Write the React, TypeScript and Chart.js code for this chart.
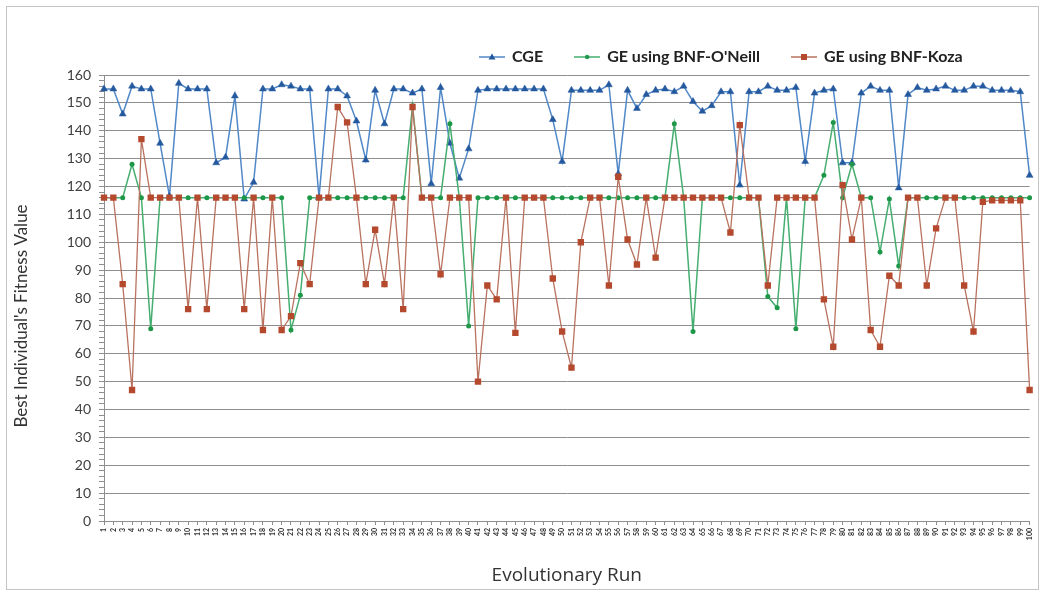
import React, { useEffect, useRef } from 'react';
import { Chart, registerables } from 'chart.js';

Chart.register(...registerables);

const runs = [
  '1','2','3','4','5','6','7','8','9','10','11','12','13','14','15','16','17','18','19','20',
  '21','22','23','24','25','26','27','28','29','30','31','32','33','34','35','36','37','38','39','40',
  '41','42','43','44','45','46','47','48','49','50','51','52','53','54','55','56','57','58','59','60',
  '61','62','63','64','65','66','67','68','69','70','71','72','73','74','75','76','77','78','79','80',
  '81','82','83','84','85','86','87','88','89','90','91','92','93','94','95','96','97','98','99','100',
];

const cge = [
  155, 155, 146, 156, 155, 155, 135.5, 116.5, 157, 155,
  155, 155, 128.5, 130.5, 152.5, 115.5, 121.5, 155, 155, 156.5,
  156, 155, 155, 116, 155, 155, 152.5, 143.5, 129.5, 154.5,
  142.5, 155, 155, 153.5, 155, 121, 155.5, 135.5, 123, 133.5,
  154.5, 155, 155, 155, 155, 155, 155, 155, 144, 129,
  154.5, 154.5, 154.5, 154.5, 156.5, 124.5, 154.5, 148, 153, 154.5,
  155, 154, 156, 150.5, 147, 149, 154, 154, 120.5, 154,
  154, 156, 154.5, 154.5, 155.5, 129, 153.5, 154.5, 155, 128.5,
  128.5, 153.5, 156, 154.5, 154.5, 119.5, 153, 155.5, 154.5, 155,
  156, 154.5, 154.5, 156, 156, 154.5, 154.5, 154.5, 154, 124,
];

const oneill = [
  116, 116, 116, 128, 116, 69, 116, 116, 116, 116,
  116, 116, 116, 116, 116, 116, 116, 116, 116, 116,
  68.5, 81, 116, 116, 116, 116, 116, 116, 116, 116,
  116, 116, 116, 149, 116, 116, 116, 142.5, 116, 70,
  116, 116, 116, 116, 116, 116, 116, 116, 116, 116,
  116, 116, 116, 116, 116, 116, 116, 116, 116, 116,
  116, 142.5, 116, 68, 116, 116, 116, 116, 116, 116,
  116, 80.5, 76.5, 116, 69, 116, 116, 124, 143, 116,
  128, 116, 116, 96.5, 115.5, 91.5, 116, 116, 116, 116,
  116, 116, 116, 116, 116, 116, 116, 116, 116, 116,
];

const koza = [
  116, 116, 85, 47, 137, 116, 116, 116, 116, 76,
  116, 76, 116, 116, 116, 76, 116, 68.5, 116, 68.5,
  73.5, 92.5, 85, 116, 116, 148.5, 143, 116, 85, 104.5,
  85, 116, 76, 148.5, 116, 116, 88.5, 116, 116, 116,
  50, 84.5, 79.5, 116, 67.5, 116, 116, 116, 87, 68,
  55, 100, 116, 116, 84.5, 123.5, 101, 92, 116, 94.5,
  116, 116, 116, 116, 116, 116, 116, 103.5, 142, 116,
  116, 84.5, 116, 116, 116, 116, 116, 79.5, 62.5, 120.5,
  101, 116, 68.5, 62.5, 88, 84.5, 116, 116, 84.5, 105,
  116, 116, 84.5, 68, 114.5, 115, 115, 115, 115, 47,
];

const yLabels = [0, 10, 20, 30, 40, 50, 60, 70, 80, 90, 100, 110, 120, 130, 140, 150, 160];

const seriesNames = ['CGE', "GE using BNF-O'Neill", 'GE using BNF-Koza'];
const xTitle = 'Evolutionary Run';
const yTitle = "Best Individual's Fitness Value";

const FONT = 'Lato, "Open Sans", sans-serif';
const GRID = '#8e8e8e';
const BLUE_LINE = '#5088C8';
const BLUE_PT = '#24599E';
const GREEN_LINE = '#45AE70';
const GREEN_PT = '#1E9848';
const RED_LINE = '#B9725F';
const RED_PT = '#B4492D';

function makeIcon(line: string, fill: string, style: string) {
  const c = document.createElement('canvas');
  c.width = 26;
  c.height = 10;
  const ctx = c.getContext('2d')!;
  ctx.strokeStyle = line;
  ctx.lineWidth = 1.5;
  ctx.beginPath();
  ctx.moveTo(0, 5);
  ctx.lineTo(26, 5);
  ctx.stroke();
  ctx.fillStyle = fill;
  ctx.beginPath();
  if (style === 'triangle') {
    ctx.moveTo(13, 1.5);
    ctx.lineTo(16.5, 7.5);
    ctx.lineTo(9.5, 7.5);
    ctx.closePath();
  } else if (style === 'circle') {
    ctx.arc(13, 5, 2.2, 0, Math.PI * 2);
  } else {
    ctx.rect(10, 2, 6, 6);
  }
  ctx.fill();
  return c;
}

export default function App() {
  const ref = useRef<HTMLCanvasElement | null>(null);

  useEffect(() => {
    if (!ref.current) return;
    const icons = [
      makeIcon(BLUE_LINE, BLUE_PT, 'triangle'),
      makeIcon(GREEN_LINE, GREEN_PT, 'circle'),
      makeIcon(RED_LINE, RED_PT, 'rect'),
    ];
    const minorTicks: number[] = [];
    for (let v = 0; v <= 160; v += 2) minorTicks.push(v);

    const legendShift = {
      id: 'legendShift',
      afterLayout(chart: any) {
        const lg = chart.legend;
        if (lg) {
          const pad = lg.options.labels.padding;
          lg.left = 480 - pad;
        }
      },
    };

    const yTitlePlugin = {
      id: 'yTitlePlugin',
      afterDraw(chart: any) {
        const ctx = chart.ctx;
        ctx.save();
        ctx.translate(22, 316);
        ctx.rotate(-Math.PI / 2);
        ctx.font = '17px ' + FONT;
        ctx.fillStyle = '#333';
        ctx.textAlign = 'center';
        ctx.textBaseline = 'middle';
        ctx.fillText(yTitle, 0, 0);
        ctx.restore();
      },
    };

    const chart = new Chart(ref.current, {
      type: 'line',
      data: {
        labels: runs,
        datasets: [
          {
            label: seriesNames[0],
            data: cge,
            borderColor: BLUE_LINE,
            backgroundColor: BLUE_PT,
            pointBackgroundColor: BLUE_PT,
            pointBorderColor: BLUE_PT,
            pointStyle: 'triangle',
            pointRadius: 4,
            pointBorderWidth: 0.5,
            borderWidth: 1.5,
            tension: 0,
            order: 2,
          },
          {
            label: seriesNames[1],
            data: oneill,
            borderColor: GREEN_LINE,
            backgroundColor: GREEN_PT,
            pointBackgroundColor: GREEN_PT,
            pointBorderColor: GREEN_PT,
            pointStyle: 'circle',
            pointRadius: 2.5,
            pointBorderWidth: 0,
            borderWidth: 1.5,
            tension: 0,
            order: 1,
          },
          {
            label: seriesNames[2],
            data: koza,
            borderColor: RED_LINE,
            backgroundColor: RED_PT,
            pointBackgroundColor: RED_PT,
            pointBorderColor: RED_PT,
            pointStyle: 'rect',
            pointRadius: 4.5,
            pointBorderWidth: 0,
            borderWidth: 1.3,
            tension: 0,
            order: 0,
          },
        ],
      },
      options: {
        responsive: false,
        animation: false,
        devicePixelRatio: 1,
        layout: { padding: { left: 10, right: 11, top: 17, bottom: 6 } },
        plugins: {
          tooltip: { enabled: false },
          legend: {
            display: true,
            position: 'top',
            align: 'start',
            labels: {
              usePointStyle: true,
              pointStyleWidth: 24,
              padding: 32,
              color: '#222',
              font: { family: FONT, size: 16, weight: 'bold' },
              sort: (a: any, b: any) => a.datasetIndex - b.datasetIndex,
              generateLabels: (chart: any) => {
                const items = Chart.defaults.plugins.legend.labels.generateLabels(chart);
                return items.map((it: any) => ({ ...it, pointStyle: icons[it.datasetIndex] }));
              },
            },
          },
        },
        scales: {
          x: {
            type: 'category',
            offset: false,
            grid: { drawOnChartArea: false, drawTicks: true, tickLength: 4, color: GRID },
            border: { color: GRID, width: 1 },
            ticks: {
              autoSkip: false,
              minRotation: 90,
              maxRotation: 90,
              padding: 3,
              color: '#333',
              font: { family: FONT, size: 7, weight: 'bold' },
            },
            title: {
              display: true,
              text: xTitle,
              color: '#333',
              font: { family: '"Open Sans", sans-serif', size: 19 },
              padding: 0,
            },
            afterFit: (s: any) => {
              s.height = 66;
            },
          },
          y: {
            type: 'linear',
            min: 0,
            max: 160,
            afterBuildTicks: (s: any) => {
              s.ticks = minorTicks.map((v) => ({ value: v }));
            },
            grid: {
              color: (c: any) => (c.tick && c.tick.value % 10 === 0 ? GRID : 'rgba(0,0,0,0)'),
              tickColor: GRID,
              tickLength: 5,
              lineWidth: 1,
            },
            border: { color: GRID, width: 1 },
            ticks: {
              autoSkip: false,
              padding: 8,
              color: '#404040',
              font: { family: FONT, size: 14 },
              callback: (v: any) => (yLabels.includes(Number(v)) ? String(v) : ''),
            },
            title: { display: false },
            afterFit: (s: any) => {
              s.width = 94;
            },
          },
        },
      },
      plugins: [legendShift, yTitlePlugin],
    } as any);
    return () => chart.destroy();
  }, []);

  return (
    <div style={{ position: 'fixed', left: 0, top: 0, width: 1041, height: 593, background: '#fff' }}>
      <div
        style={{
          position: 'absolute',
          left: 6,
          top: 6,
          width: 1033,
          height: 584,
          border: '1px solid #c4c4c4',
          boxSizing: 'border-box',
        }}
      />
      <canvas
        ref={ref}
        width={1041}
        height={593}
        style={{ position: 'absolute', left: 0, top: 0, width: 1041, height: 593 }}
      />
    </div>
  );
}
